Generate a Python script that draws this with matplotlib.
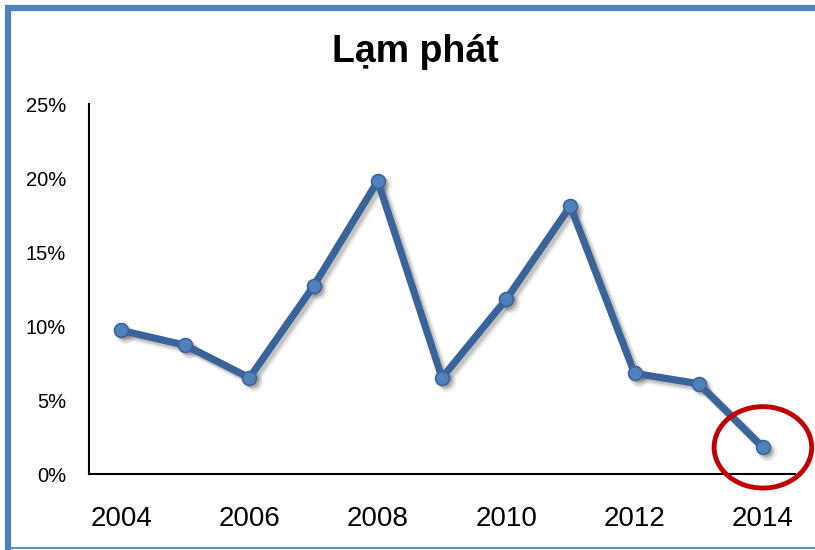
import matplotlib
matplotlib.use("Agg")
import matplotlib.pyplot as plt
import matplotlib.transforms as mtransforms
from matplotlib.patches import Ellipse
from matplotlib.lines import Line2D
from matplotlib.ticker import FuncFormatter

years = [2004, 2005, 2006, 2007, 2008, 2009, 2010, 2011, 2012, 2013, 2014]
inflation = [9.7, 8.7, 6.5, 12.7, 19.8, 6.5, 11.8, 18.1, 6.8, 6.1, 1.8]
x_ticks = [2004, 2006, 2008, 2010, 2012, 2014]
y_ticks = [0, 5, 10, 15, 20, 25]
title = "Lạm phát"
highlight_year = 2014
highlight_value = 1.8

W, H = 815, 550
fig = plt.figure(figsize=(W / 100, H / 100), dpi=100)
fig.patch.set_facecolor("white")

ax = fig.add_axes([89 / W, 1 - 474 / H, (795 - 89) / W, (474 - 104) / H])
ax.set_xlim(2003.5, 2014.5)
ax.set_ylim(0, 25)

# soft shadow (offset down-right)
for dx, lw, a in [(4, 11, 0.05), (3.5, 9, 0.08), (3, 7, 0.12)]:
    off = mtransforms.offset_copy(ax.transData, fig=fig, x=dx, y=-dx, units="dots")
    ax.plot(years, inflation, color="black", lw=lw * 0.72, alpha=a,
            solid_capstyle="round", solid_joinstyle="round", transform=off, zorder=2)
    ax.plot(years, inflation, linestyle="none", marker="o", markersize=10 + (lw - 7),
            markerfacecolor="black", markeredgewidth=0, alpha=a * 1.2,
            transform=off, zorder=2)

ax.plot(years, inflation, color="#3A6399", lw=5.2, solid_capstyle="round",
        solid_joinstyle="round", zorder=3)
ax.plot(years, inflation, linestyle="none", marker="o", markersize=10,
        markerfacecolor="#4F81BD", markeredgecolor="#3A6399", markeredgewidth=1.2,
        zorder=4)

ell = Ellipse((highlight_year, highlight_value), width=1.52, height=5.5,
              fill=False, edgecolor="#C00000", lw=3.5, zorder=5, clip_on=False)
ax.add_patch(ell)

ax.set_xticks(x_ticks)
ax.set_yticks(y_ticks)
ax.yaxis.set_major_formatter(FuncFormatter(lambda v, p: f"{int(v)}%"))
ax.tick_params(axis="both", length=0)
ax.tick_params(axis="y", pad=16.5)
ax.tick_params(axis="x", pad=23)
for lab in ax.get_yticklabels():
    lab.set_fontfamily(["Liberation Sans", "DejaVu Sans"])
    lab.set_fontsize(14.5)
for lab in ax.get_xticklabels():
    lab.set_fontfamily(["Liberation Sans", "DejaVu Sans"])
    lab.set_fontsize(20)

for s in ["top", "right"]:
    ax.spines[s].set_visible(False)
for s in ["left", "bottom"]:
    ax.spines[s].set_color("black")
    ax.spines[s].set_linewidth(1.5)

fig.text(415 / W, 1 - 52 / H, title, ha="center", va="center",
         fontsize=27, fontweight="bold", family=["Liberation Sans", "DejaVu Sans"])

frame_c = "#4F81BD"
fig.add_artist(Line2D([8 / W, 8 / W], [1 - 8 / H, 0], transform=fig.transFigure,
                      color=frame_c, lw=4.5, solid_capstyle="butt"))
fig.add_artist(Line2D([5 / W, 1], [1 - 8 / H, 1 - 8 / H], transform=fig.transFigure,
                      color=frame_c, lw=4.5, solid_capstyle="butt"))
fig.add_artist(Line2D([5 / W, 1], [1 - 548 / H, 1 - 548 / H], transform=fig.transFigure,
                      color=frame_c, lw=1.3, solid_capstyle="butt"))

fig.savefig("out.png", dpi=100, facecolor="white")
